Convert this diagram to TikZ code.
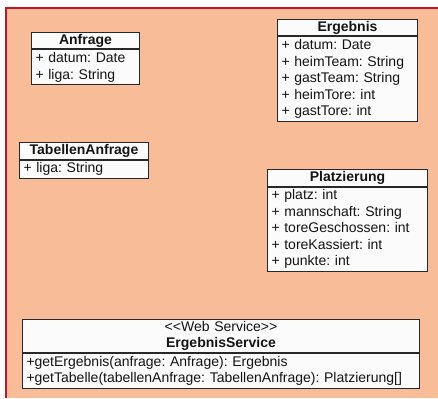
\documentclass[tikz,border=0pt]{standalone}
\usepackage{fontspec}
\newfontfamily\umlfont{Liberation Sans}
\frenchspacing
\definecolor{hintergrund}{RGB}{248,188,152}
\definecolor{rahmen}{RGB}{190,22,42}
\definecolor{kasten}{RGB}{251,251,251}
\definecolor{linie}{RGB}{40,40,40}
\definecolor{schrift}{RGB}{20,20,20}
\tikzset{
  klasse/.style    = {draw=linie, fill=kasten, line width=1pt, text=schrift,
                      font=\umlfont\fontsize{14}{16.5}\selectfont\frenchspacing,
                      inner xsep=4pt, anchor=north west,
                      execute at begin node=\strut, execute at end node=\strut},
  kopf/.style      = {klasse, inner ysep=0pt, align=center,
                      font=\umlfont\fontsize{14}{16.5}\selectfont\bfseries},
  attribute/.style = {klasse, inner ysep=1pt, align=left}
}

\begin{document}
\begin{tikzpicture}[x=1pt,y=-1pt]
  \useasboundingbox (0,0) rectangle (438,398);
  \fill[hintergrund] (6,8) rectangle (438,398);
  \draw[rahmen, line width=1.2pt] (6,398) -- (6,8) -- (438,8);

  % Anfrage
  \node[kopf, text width=100pt] (anfrage) at (31,32) {Anfrage};
  \node[attribute, text width=100pt] (anfrage-attr) at (anfrage.south west)
       {+ datum: Date\\+ liga: String};

  % Ergebnis
  \node[kopf, text width=132pt] (ergebnis) at (277,19) {Ergebnis};
  \node[attribute, text width=132pt] (ergebnis-attr) at (ergebnis.south west)
       {+ datum: Date\\+ heimTeam: String\\+ gastTeam: String\\+ heimTore: int\\+ gastTore: int};

  % TabellenAnfrage
  \node[kopf, text width=121pt] (tabanfrage) at (19,142) {TabellenAnfrage};
  \node[attribute, text width=121pt] (tabanfrage-attr) at (tabanfrage.south west)
       {+ liga: String};

  % Platzierung
  \node[kopf, text width=152pt] (platz) at (267,169) {Platzierung};
  \node[attribute, text width=152pt] (platz-attr) at (platz.south west)
       {+ platz: int\\+ mannschaft: String\\+ toreGeschossen: int\\+ toreKassiert: int\\+ punkte: int};

  % ErgebnisService
  \node[kopf, text width=389pt] (service) at (22,319)
       {{\mdseries <<Web Service>>}\\ErgebnisService};
  \node[attribute, text width=389pt] (service-ops) at (service.south west)
       {+getErgebnis(anfrage: Anfrage): Ergebnis\\+getTabelle(tabellenAnfrage: TabellenAnfrage): Platzierung[]};
\end{tikzpicture}
\end{document}
